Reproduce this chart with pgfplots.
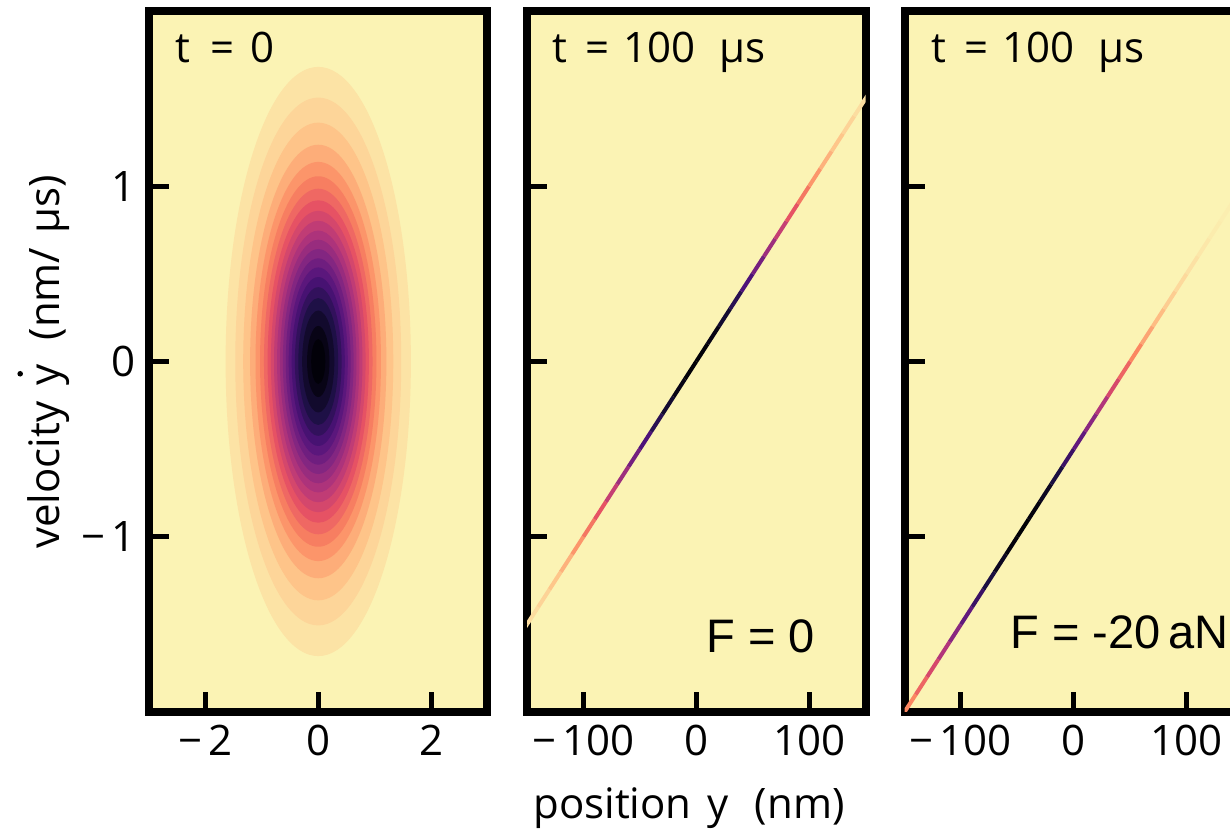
\documentclass[border=0pt]{standalone}
\usepackage{fontspec}
\setmainfont{Open Sans}
\newfontfamily\arialf{Liberation Sans}
\usepackage{pgfplots}
\usepackage{pgfplotstable}
\pgfplotsset{compat=1.18}
\definecolor{bgy}{RGB}{251,243,180}

\pgfdeclareplotmark{ring}{%
  \pgfpathellipse{\pgfpointorigin}{\pgfqpoint{\ra pt}{0pt}}{\pgfqpoint{0pt}{\rb pt}}%
  \pgfusepathqfill}

% nested density contours of panel 1 (semi-axes in data units, colour level)
\pgfplotstableread{
x y a b t
0 0 1.642 1.681 0.960
0 0 1.471 1.506 0.925
0 0 1.330 1.363 0.880
0 0 1.208 1.237 0.830
0 0 1.112 1.139 0.780
0 0 1.032 1.057 0.730
0 0 0.962 0.986 0.680
0 0 0.898 0.920 0.630
0 0 0.839 0.860 0.580
0 0 0.784 0.803 0.530
0 0 0.730 0.747 0.480
0 0 0.678 0.695 0.430
0 0 0.627 0.642 0.380
0 0 0.575 0.589 0.330
0 0 0.524 0.537 0.280
0 0 0.471 0.482 0.230
0 0 0.414 0.424 0.180
0 0 0.353 0.362 0.130
0 0 0.285 0.291 0.080
0 0 0.198 0.203 0.035
0 0 0.125 0.128 0.010
}\ringsA

% panel 2: F = 0
\pgfplotstableread{
x y t
-160 -1.6 0.970
-150 -1.5 0.956
-140 -1.4 0.934
-130 -1.3 0.904
-120 -1.2 0.865
-110 -1.1 0.814
-100 -1.0 0.751
-90 -0.9 0.675
-80 -0.8 0.589
-70 -0.7 0.494
-60 -0.6 0.393
-50 -0.5 0.293
-40 -0.4 0.199
-30 -0.3 0.118
-20 -0.2 0.054
-10 -0.1 0.014
0 0 0.000
10 0.1 0.014
20 0.2 0.054
30 0.3 0.118
40 0.4 0.199
50 0.5 0.293
60 0.6 0.393
70 0.7 0.494
80 0.8 0.589
90 0.9 0.675
100 1.0 0.751
110 1.1 0.814
120 1.2 0.865
130 1.3 0.904
140 1.4 0.934
150 1.5 0.956
160 1.6 0.970
}\lineB

% panel 3: F = -20 aN
\pgfplotstableread{
x y t
-160 -2.1 0.841
-150 -2.0 0.784
-140 -1.9 0.714
-130 -1.8 0.633
-120 -1.7 0.542
-110 -1.6 0.444
-100 -1.5 0.343
-90 -1.4 0.245
-80 -1.3 0.157
-70 -1.2 0.083
-60 -1.1 0.031
-50 -1.0 0.004
-40 -0.9 0.004
-30 -0.8 0.031
-20 -0.7 0.083
-10 -0.6 0.157
0 -0.5 0.245
10 -0.4 0.343
20 -0.3 0.444
30 -0.2 0.542
40 -0.1 0.633
50 0.0 0.714
60 0.1 0.784
70 0.2 0.841
80 0.3 0.886
90 0.4 0.920
100 0.5 0.946
110 0.6 0.964
120 0.7 0.977
130 0.8 0.986
140 0.9 0.991
150 1.0 0.995
}\lineC

\pgfplotsset{
  colormap={magmar}{rgb255(0)=(0,0,4) rgb255(1)=(28,16,68) rgb255(2)=(79,18,123)
    rgb255(3)=(129,37,129) rgb255(4)=(181,54,122) rgb255(5)=(229,80,100)
    rgb255(6)=(251,135,97) rgb255(7)=(254,194,135) rgb255(8)=(251,243,180)},
  panel/.style={
    scale only axis, width=169.25pt, height=350.5pt,
    anchor=north west,
    ymin=-2, ymax=2, ytick={-1,0,1},
    axis line style={line width=4pt, black},
    tick style={line width=2.5pt, black},
    major tick length=10pt,
    tick align=inside,
    xtick pos=left, ytick pos=left,
    axis background/.style={fill=bgy},
    point meta min=0, point meta max=1,
    colormap name=magmar,
    tick label style={font=\fontsize{21}{24}\selectfont},
    xticklabel style={yshift=-3pt},
    yticklabel style={xshift=-3pt},
  },
}

\begin{document}
\begin{tikzpicture}
\begin{axis}[panel, at={(74.5pt,-5.5pt)},
  xmin=-3, xmax=3, xtick={-2,0,2},
  xticklabels={−\kern3pt2,0,2},
  yticklabels={−\kern3pt1,0,1}]
\addplot[scatter, only marks, mark=ring, point meta=\thisrow{t},
  visualization depends on={28.2083*\thisrow{a} \as \ra},
  visualization depends on={87.625*\thisrow{b} \as \rb},
  scatter/use mapped color={draw=none, fill=mapped color}]
  table[x=x, y=y] {\ringsA};
\node[anchor=base west, font=\fontsize{21}{24}\selectfont] at (rel axis cs:0.058,0.926) {t\hspace{10pt}=\hspace{8pt}0};
\end{axis}

\begin{axis}[panel, at={(263.5pt,-5.5pt)},
  xmin=-150, xmax=150, xtick={-100,0,100},
  xticklabels={−\kern3pt100,0,100},
  yticklabels={}]
\addplot[mesh, line width=2pt, point meta=\thisrow{t}] table[x=x, y=y] {\lineB};
\node[anchor=base west, font=\fontsize{21}{24}\selectfont] at (rel axis cs:0.055,0.927) {t\hspace{9pt}=\hspace{7pt}100\hspace{12pt}μs};
\node[anchor=base east, font=\arialf\fontsize{23.5}{26}\selectfont] at (rel axis cs:0.872,0.0842) {F = 0};
\end{axis}

\begin{axis}[panel, at={(452.25pt,-5.5pt)},
  xmin=-150, xmax=150, xtick={-100,0,100},
  xticklabels={−\kern3pt100,0,100},
  yticklabels={}]
\addplot[mesh, line width=2pt, point meta=\thisrow{t}] table[x=x, y=y] {\lineC};
\node[anchor=base west, font=\fontsize{21}{24}\selectfont] at (rel axis cs:0.058,0.927) {t\hspace{9pt}=\hspace{7pt}100\hspace{12pt}μs};
\node[anchor=base west, font=\arialf\fontsize{23.5}{26}\selectfont] at (rel axis cs:0.292,0.0899) {F = -20\,aN};
\end{axis}

\node[anchor=base, font=\fontsize{21}{24}\selectfont] at (344.5pt,-409pt)
  {position\hspace{8pt}y\hspace{13pt}(nm)};
\node[anchor=base, rotate=90, inner sep=0pt, font=\fontsize{21}{24}\selectfont] at (29.5pt,-181pt)
  {velocity\hspace{8pt}\makebox[0pt][l]{\hspace{4.5pt}\raisebox{18pt}{\tikz\fill (0,0) circle (1.4pt);}}y\hspace{12pt}(nm/\hspace{7pt}μs)};

\pgfresetboundingbox
\path[use as bounding box] (0pt,0pt) rectangle (615pt,-414.5pt);
\end{tikzpicture}
\end{document}
